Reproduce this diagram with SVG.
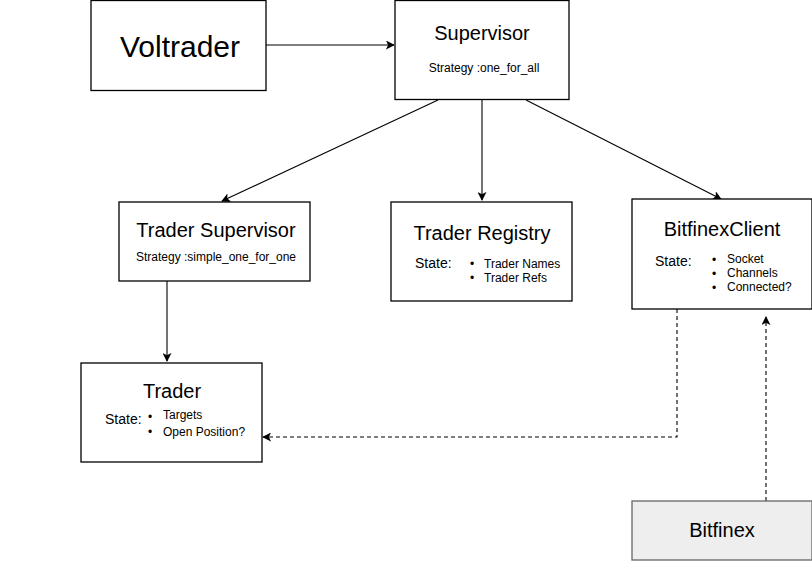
<svg xmlns="http://www.w3.org/2000/svg" width="812" height="562" viewBox="0 0 812 562">
<style>
.box{fill:#ffffff;stroke:#000000;stroke-width:1.3}
.gbox{fill:#eeeeee;stroke:#666666;stroke-width:1.3}
text{font-family:"Liberation Sans",Arial,sans-serif;fill:#000000}
.title{font-size:20px;text-anchor:middle}
.big{font-size:30px;text-anchor:middle}
.sm{font-size:12px}
.st{font-size:14px}
.edge{fill:none;stroke:#000000;stroke-width:1.1}
.dash{stroke-dasharray:4 3}
</style>
<defs>
<marker id="arr" viewBox="0 0 10 10" refX="9" refY="5" markerWidth="9" markerHeight="9" markerUnits="userSpaceOnUse" orient="auto">
<path d="M0,0 L10,5 L0,10 L2.5,5 Z" fill="#000000"/>
</marker>
</defs>
<rect width="812" height="562" fill="#ffffff"/>
<g id="connectors">
<path class="edge" d="M266,45 L394,45" marker-end="url(#arr)"/>
<path class="edge" d="M438,100 L222,201" marker-end="url(#arr)"/>
<path class="edge" d="M482,100 L482,200" marker-end="url(#arr)"/>
<path class="edge" d="M526,100 L721,199" marker-end="url(#arr)"/>
<path class="edge" d="M167,281 L167,361" marker-end="url(#arr)"/>
<path class="edge dash" d="M677,309 L677,437 L263,437" marker-end="url(#arr)"/>
<path class="edge dash" d="M766,501 L766,317" marker-end="url(#arr)"/>
</g>
<g id="voltrader">
<rect class="box" x="91" y="0.5" width="175" height="90"/>
<text class="big" x="180" y="57">Voltrader</text>
</g>
<g id="supervisor">
<rect class="box" x="395" y="0.5" width="174" height="99"/>
<text class="title" x="482" y="40">Supervisor</text>
<text class="sm" x="484" y="72" text-anchor="middle">Strategy :one_for_all</text>
</g>
<g id="trader-supervisor">
<rect class="box" x="119" y="202" width="191" height="79"/>
<text class="title" x="216" y="237">Trader Supervisor</text>
<text class="sm" x="216" y="261" text-anchor="middle">Strategy :simple_one_for_one</text>
</g>
<g id="trader-registry">
<rect class="box" x="391" y="202" width="181" height="99"/>
<text class="title" x="482" y="240">Trader Registry</text>
<text class="st" x="415" y="268">State:</text>
<text class="sm" x="470" y="268">•</text>
<text class="sm" x="484" y="268">Trader Names</text>
<text class="sm" x="470" y="282">•</text>
<text class="sm" x="484" y="282">Trader Refs</text>
</g>
<g id="bitfinex-client">
<rect class="box" x="632" y="199" width="180" height="110"/>
<text class="title" x="722" y="236">BitfinexClient</text>
<text class="st" x="655" y="266">State:</text>
<text class="sm" x="712" y="264">•</text>
<text class="sm" x="727" y="263">Socket</text>
<text class="sm" x="712" y="278">•</text>
<text class="sm" x="727" y="277">Channels</text>
<text class="sm" x="712" y="292">•</text>
<text class="sm" x="727" y="291">Connected?</text>
</g>
<g id="trader">
<rect class="box" x="81" y="363" width="181" height="99"/>
<text class="title" x="172" y="398">Trader</text>
<text class="st" x="105" y="424">State:</text>
<text class="sm" x="148" y="421">•</text>
<text class="sm" x="163" y="419">Targets</text>
<text class="sm" x="148" y="436">•</text>
<text class="sm" x="163" y="436">Open Position?</text>
</g>
<g id="bitfinex">
<rect class="gbox" x="632" y="501" width="180" height="59"/>
<text class="title" x="722" y="537">Bitfinex</text>
</g>
</svg>
